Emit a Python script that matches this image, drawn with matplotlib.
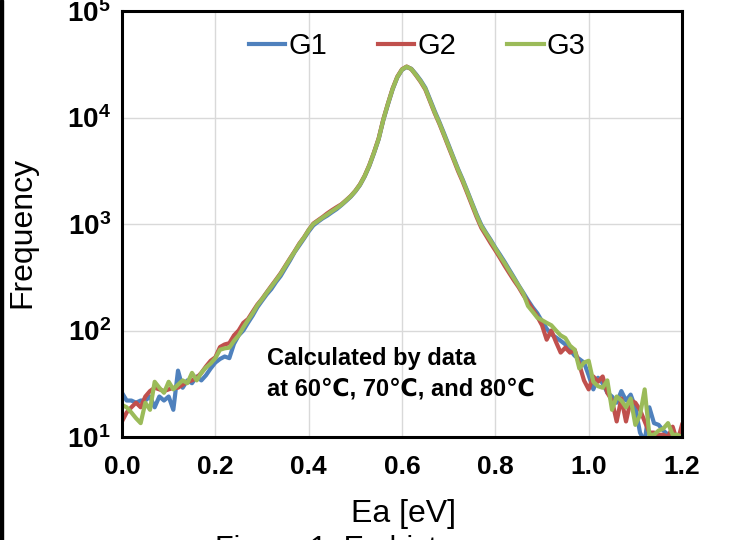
import matplotlib
matplotlib.use("Agg")
import matplotlib.pyplot as plt
from matplotlib.patches import Rectangle

plt.rcParams['font.family'] = ['Liberation Sans', 'DejaVu Sans']
plt.rcParams['mathtext.fontset'] = 'custom'
plt.rcParams['mathtext.rm'] = 'Liberation Sans:bold'
plt.rcParams['mathtext.it'] = 'Liberation Sans:bold'
plt.rcParams['mathtext.bf'] = 'Liberation Sans:bold'

# Activation energy bins (eV)
ea = [i / 100 for i in range(121)]

g1 = [26, 22, 22, 21, 22, 22, 24, 19, 24, 22, 24, 18, 42, 29, 34, 32, 37, 34, 38, 44,
      50, 54, 57, 55, 75, 90,
      100, 118, 138, 165, 190, 218, 245, 285, 325, 385, 455, 545, 630, 730, 850,
      970, 1050, 1130, 1200, 1290, 1380, 1500, 1640, 1800, 2020, 2320, 2790, 3500,
      4620, 6250, 9450, 13300, 18400, 23800, 28000, 29800, 28700, 25500, 22300,
      19000, 14800, 11500, 9100, 7100, 5500, 4250, 3300, 2620, 2040, 1580, 1230,
      980, 830, 710, 600, 515, 440, 372, 315,
      265, 226, 192, 165, 145, 122, 104, 92, 86, 80, 74, 66, 58, 54, 50, 38, 28,
      36, 32, 26, 24, 21, 27, 22, 25, 19, 11, 9, 19, 13.5, 13, 11.5, 10.5, 10, 9, 9]

g2 = [14, 17, 19, 21, 19, 24, 27, 29, 28, 27, 28, 29, 29, 31, 33, 34, 36, 40, 46, 52,
      56, 70, 74, 76, 90, 100,
      118, 128, 150, 175, 198, 228, 262, 300, 345, 405, 475, 555, 655, 750, 880,
      1010, 1085, 1165, 1260, 1350, 1440, 1530, 1670, 1830, 2050, 2360, 2840, 3580,
      4720, 6380, 9650, 13600, 18800, 24200, 28400, 30100, 28400, 24900, 21600,
      18300, 14200, 11000, 8750, 6800, 5250, 4080, 3150, 2500, 1940, 1500, 1160,
      920, 780, 660, 565, 480, 405, 345, 295,
      255, 215, 185, 158, 135, 112, 82, 100, 78, 62, 69, 62, 66, 48, 34, 28, 37,
      33, 37, 26, 22, 14, 23, 14, 22, 21, 18, 14, 11, 11, 10.5, 10.5, 10, 12.5, 9, 13]

g3 = [20, 19, 17, 15, 13.5, 21, 18, 33, 29, 26, 33, 28, 31, 34, 32, 40, 34, 40, 45, 49,
      55, 66, 68, 69, 80, 90,
      107, 125, 145, 172, 196, 226, 258, 296, 340, 400, 470, 550, 648, 745, 875,
      1000, 1070, 1150, 1230, 1320, 1410, 1515, 1660, 1820, 2040, 2340, 2820, 3550,
      4680, 6310, 9550, 13500, 18600, 24000, 28200, 30000, 28500, 25100, 21900,
      18600, 14450, 11200, 8900, 6920, 5370, 4170, 3240, 2570, 2000, 1550, 1200,
      955, 815, 695, 590, 500, 428, 362, 308,
      262, 222, 170, 150, 132, 125, 118, 112, 100, 90, 85, 72, 66, 44, 50, 52, 33,
      30, 29, 34, 18, 24, 22, 19, 23, 13, 16, 28, 10.5, 10.5, 11.5, 12, 13.5, 10.5, 10.5, 10]

series_names = ['G1', 'G2', 'G3']
series_colors = ['#4F81BD', '#C0504D', '#9BBB59']
xticks = [0.0, 0.2, 0.4, 0.6, 0.8, 1.0, 1.2]
xtick_labels = ['0.0', '0.2', '0.4', '0.6', '0.8', '1.0', '1.2']
yticks = [10, 100, 1000, 10000, 100000]
ytick_labels = [r'$10^{1}$', r'$10^{2}$', r'$10^{3}$', r'$10^{4}$', r'$10^{5}$']

fig = plt.figure(figsize=(7.32, 5.40), dpi=100)
ax = fig.add_axes([122 / 732, 1 - 437 / 540, 560 / 732, 426 / 540])

for vals, name, col in zip([g1, g2, g3], series_names, series_colors):
    ax.plot(ea, vals, color=col, lw=3.0, label=name, solid_joinstyle='round', zorder=3)

ax.set_yscale('log')
ax.set_xlim(0, 1.2)
ax.set_ylim(10, 100000)
ax.set_xticks(xticks)
ax.set_xticklabels(xtick_labels, fontsize=19, fontweight='bold')
ax.set_yticks(yticks)
ax.set_yticklabels(ytick_labels, fontsize=20)
ax.minorticks_off()
ax.tick_params(axis='both', length=0)
ax.tick_params(axis='x', pad=13)
ax.tick_params(axis='y', pad=8)
ax.grid(True, color='#D9D9D9', lw=1.0, zorder=0)
for s in ax.spines.values():
    s.set_linewidth(2.2)
    s.set_color('black')
    s.set_zorder(5)

ax.set_xlabel('Ea [eV]', fontsize=23)
ax.xaxis.set_label_coords(0.503, -0.145)
ax.set_ylabel('Frequency', fontsize=23)
ax.yaxis.set_label_coords(-0.152, 0.48)

ax.legend(loc='center', bbox_to_anchor=(0.527, 0.918), ncol=3, frameon=False,
          fontsize=21, handlelength=1.25, handletextpad=0.1, columnspacing=1.75)

ax.text(0.259, 0.148, 'Calculated by data\nat 60\u2103, 70\u2103, and 80\u2103',
        transform=ax.transAxes, fontsize=17, fontweight='bold', ha='left', va='center',
        linespacing=1.4, family=['Liberation Sans', 'DejaVu Sans'])

fig.text(215 / 732, 1 - 535 / 540, 'Figure 1. Ea histogram', fontsize=22,
         ha='left', va='top')
fig.patches.append(Rectangle((0, 0), 3 / 732, 1, transform=fig.transFigure,
                             color='black', zorder=10))

fig.savefig('out.png', dpi=100)
